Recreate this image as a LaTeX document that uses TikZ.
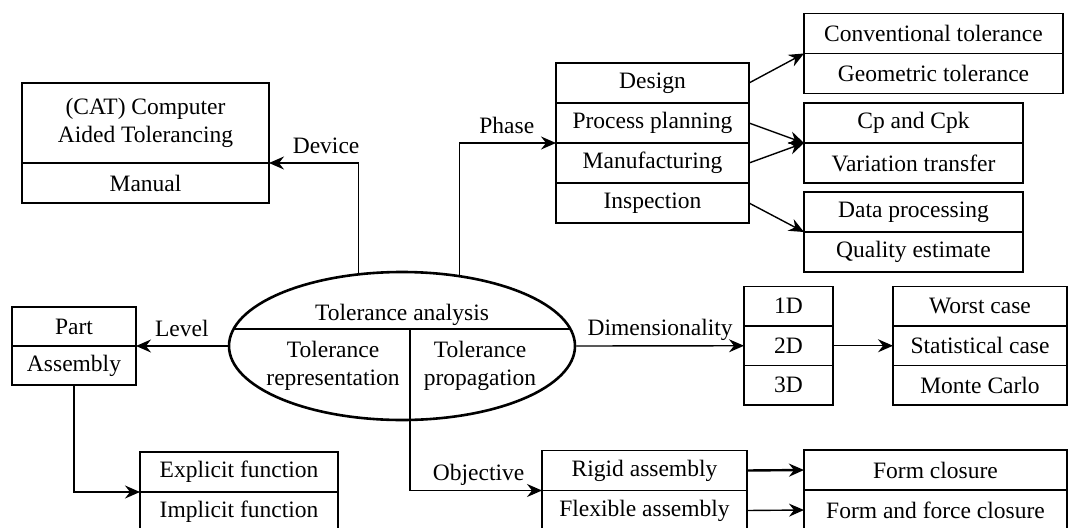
\documentclass[tikz,border=0pt]{standalone}
\usepackage{fontspec}
\setmainfont{Liberation Serif}
\usetikzlibrary{positioning,shapes.geometric,arrows.meta}
\tikzset{>={Stealth[length=15pt,width=13pt,inset=5pt]}}
\tikzset{
  cell/.style={draw, line width=1.4pt, minimum width=#1, minimum height=40pt, inner sep=0pt, outer sep=0pt, align=center},
  link/.style={->, line width=1.4pt},
  tag/.style={anchor=base, inner sep=0pt, yshift=10pt}
}

\begin{document}
\begin{tikzpicture}[x=1pt, y=-1pt, font=\fontsize{23.5}{28.5}\selectfont]
\useasboundingbox (0,0) rectangle (1070,527);
\clip (0,0) rectangle (1070,527);
\node[ellipse, draw, line width=2.6pt, minimum width=346pt, minimum height=148pt, inner sep=0pt] (ta) at (402,346) {};
\coordinate (split) at (410,329);
\draw[line width=1.4pt] ([shift={(-168.4,-17)}]ta.center) -- ([shift={(168.4,-17)}]ta.center);
\draw[line width=1.4pt] (split) -- (split |- ta.south);
\node (tahead) at (402,315) {Tolerance analysis};
\node[align=center] (trep) at (333,366) {Tolerance\\representation};
\node[align=center] (tprop) at (480,366) {Tolerance\\propagation};

\node[cell=247pt, minimum height=80pt, anchor=north west] (cat) at (22,83) {(CAT) Computer\\Aided Tolerancing};
\node[cell=247pt, below=0pt of cat] (man) {Manual};

\node[cell=193pt, anchor=north west] (des) at (556,63) {Design};
\node[cell=193pt, below=0pt of des] (pp) {Process planning};
\node[cell=193pt, below=0pt of pp] (mf) {Manufacturing};
\node[cell=193pt, below=0pt of mf] (insp) {Inspection};

\node[cell=259pt, anchor=north west] (conv) at (804,13.5) {Conventional tolerance};
\node[cell=259pt, below=0pt of conv] (geo) {Geometric tolerance};
\node[cell=219pt, anchor=north west] (cp) at (804,103) {Cp and Cpk};
\node[cell=219pt, below=0pt of cp] (vt) {Variation transfer};
\node[cell=219pt, anchor=north west] (dp) at (804,192) {Data processing};
\node[cell=219pt, below=0pt of dp] (qe) {Quality estimate};

\node[cell=124pt, minimum height=39pt, anchor=north west] (part) at (12,307) {Part};
\node[cell=124pt, minimum height=39pt, below=0pt of part] (asm) {Assembly};
\node[cell=198pt, anchor=north west] (expl) at (140,452) {Explicit function};
\node[cell=198pt, below=0pt of expl] (impl) {Implicit function};

\node[cell=89pt, minimum height=39.5pt, anchor=north west] (d1) at (744,286.5) {1D};
\node[cell=89pt, minimum height=39.5pt, below=0pt of d1] (d2) {2D};
\node[cell=89pt, minimum height=39.5pt, below=0pt of d2] (d3) {3D};
\node[cell=174pt, minimum height=39.5pt, anchor=north west] (wc) at (893,286.5) {Worst case};
\node[cell=174pt, minimum height=39.5pt, below=0pt of wc] (sc) {Statistical case};
\node[cell=174pt, minimum height=39.5pt, below=0pt of sc] (mc) {Monte Carlo};

\node[cell=205pt, anchor=north west] (rig) at (542,450.5) {Rigid assembly};
\node[cell=205pt, below=0pt of rig] (flex) {Flexible assembly};
\node[cell=263pt, anchor=north west] (fc) at (804,450) {Form closure};
\node[cell=263pt, below=0pt of fc] (ffc) {Form and force closure};

\draw[link] (ta.121) |- node[tag, pos=.68] {Device} (cat.south east);
\draw[link] (ta.51.3) |- node[tag, pos=.745] {Phase} (pp.south west);
\draw[link] (ta.west) -- node[tag] {Level} (part.south east);
\draw[link] (ta.east) -- node[tag] {Dimensionality} (d2.west);
\draw[link] (ta.south -| split) |- node[tag, pos=.76] {Objective} (rig.south west);
\draw[link] (asm.south) |- (expl.south west);
\draw[link] (d2.east) -- (sc.west);
\draw[link] (des.east) -- (conv.south west);
\draw[link] (pp.east) -- (cp.south west);
\draw[link] (mf.east) -- (cp.south west);
\draw[link] (insp.east) -- (dp.south west);
\draw[link, line width=2.4pt] (rig.east) -- (fc.west);
\draw[link] (flex.east) -- (ffc.west);
\end{tikzpicture}
\end{document}
